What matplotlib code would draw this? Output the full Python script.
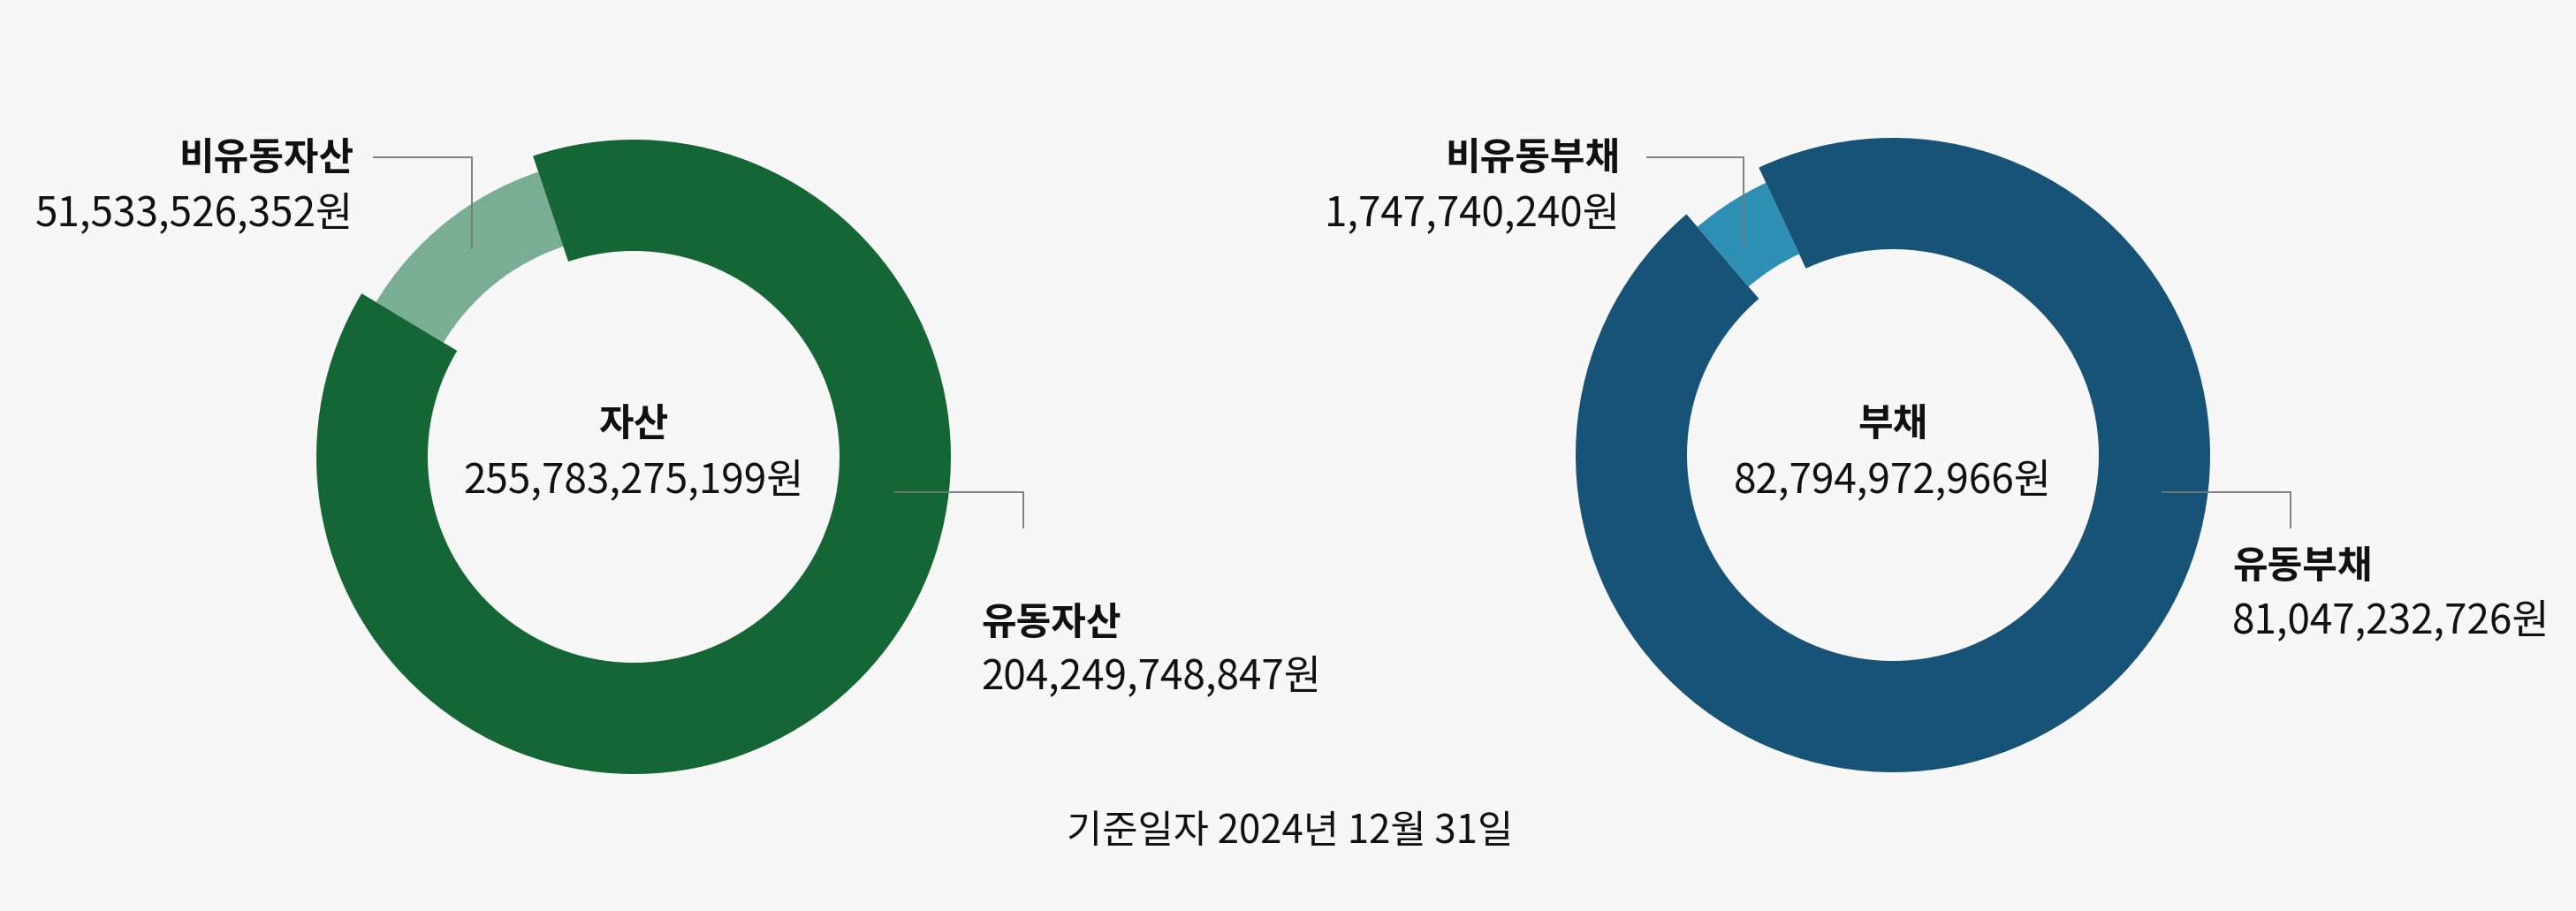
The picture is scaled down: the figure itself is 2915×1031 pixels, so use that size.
import matplotlib
matplotlib.use("Agg")
import matplotlib.pyplot as plt

plt.rcParams['font.family'] = ['Noto Sans CJK KR', 'DejaVu Sans']

# ---------------- data ----------------
asset_total_label = "자산"
asset_total = 255783275199
asset_names = ["유동자산", "비유동자산"]
asset_values = [204249748847, 51533526352]
# angular share of each ring segment as drawn in the picture (%)
asset_slice_share = [88.75, 11.25]

liab_total_label = "부채"
liab_total = 82794972966
liab_names = ["유동부채", "비유동부채"]
liab_values = [81047232726, 1747740240]
liab_slice_share = [95.67, 4.33]

footer_text = "기준일자 2024년 12월 31일"

# ---------------- style ----------------
BG = "#f7f7f7"
asset_colors = ["#146735", "#7aae94"]
liab_colors = ["#165376", "#2e8fb5"]
LINE = "#777777"
W, H = 2915, 1031

fig = plt.figure(figsize=(W / 100, H / 100), dpi=100, facecolor=BG)
ax = fig.add_axes([0, 0, 1, 1])
ax.set_facecolor(BG)


def py(y):
    return H - y


def fmt(v):
    return f"{v:,}원"


def donut(cx, cy, shares, colors, start):
    # minor (light) segment: thinner ring underneath
    ax.pie(shares, radius=340, center=(cx, py(cy)), startangle=start,
           counterclock=False, colors=["none", colors[1]],
           wedgeprops=dict(width=89, linewidth=0))
    # major (dark) segment: thicker ring on top
    ax.pie(shares, radius=359, center=(cx, py(cy)), startangle=start,
           counterclock=False, colors=[colors[0], "none"],
           wedgeprops=dict(width=126, linewidth=0))


donut(717, 517, asset_slice_share, asset_colors, 108.5)
donut(2142, 515, liab_slice_share, liab_colors, 115.0)

NUM_FS = 33
LAB_FS = 31


def label(x, y_lab, y_num, name, value, ha):
    ax.text(x, py(y_lab), name, fontsize=LAB_FS, fontweight='bold',
            ha=ha, va='baseline', color='#111111')
    ax.text(x, py(y_num), fmt(value), fontsize=NUM_FS, fontweight='light',
            ha=ha, va='baseline', color='#111111')


def leader(pts):
    xs = [p[0] for p in pts]
    ys = [py(p[1]) for p in pts]
    ax.plot(xs, ys, color=LINE, lw=1.3, solid_joinstyle='miter')


# centre labels
label(717, 493, 557, asset_total_label, asset_total, 'center')
label(2142, 493, 557, liab_total_label, liab_total, 'center')

# outer labels
label(400, 192, 255, asset_names[1], asset_values[1], 'right')
label(1110, 718, 779, asset_names[0], asset_values[0], 'left')
label(1833, 192, 255, liab_names[1], liab_values[1], 'right')
label(2526, 654, 716, liab_names[0], liab_values[0], 'left')

leader([(423, 178), (534, 178), (534, 281)])
leader([(1013, 557), (1158, 557), (1158, 597)])
leader([(1864, 178), (1973, 178), (1973, 281)])
leader([(2447, 557), (2592, 557), (2592, 597)])

ax.text(1460, py(954), footer_text, fontsize=31.5, fontweight='medium',
        ha='center', va='baseline', color='#111111')

ax.set_xlim(0, W)
ax.set_ylim(0, H)
ax.set_aspect('equal')
ax.axis('off')

fig.savefig("out.png", dpi=100, facecolor=BG)
